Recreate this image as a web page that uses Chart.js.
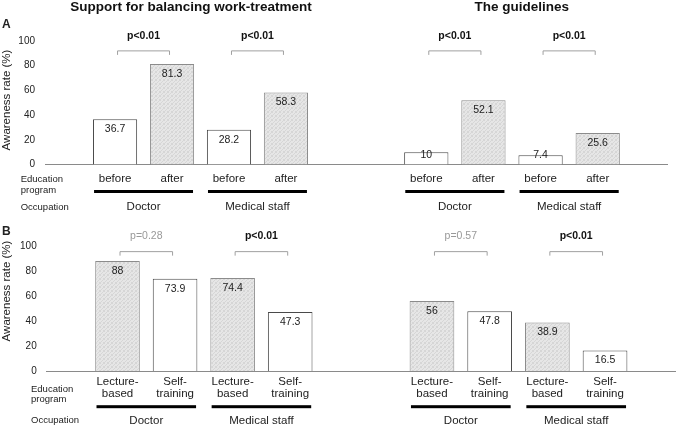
<!DOCTYPE html>
<html>
<head>
<meta charset="utf-8">
<script src="https://cdn.jsdelivr.net/npm/chart.js@4/dist/chart.umd.min.js"></script>
<style>
  body { margin: 0; background: #fff; }
  #wrap { position: relative; width: 676px; height: 425px; overflow: hidden; }
  .panel { position: absolute; }
</style>
</head>
<body>
<div id="wrap">
  <div class="panel" style="left:0;top:0;width:356px;height:215px"><canvas id="supportA"></canvas></div>
  <div class="panel" style="left:356px;top:0;width:312px;height:215px"><canvas id="guideA"></canvas></div>
  <div class="panel" style="left:0;top:215px;width:361px;height:210px"><canvas id="supportB"></canvas></div>
  <div class="panel" style="left:361px;top:215px;width:315px;height:210px"><canvas id="guideB"></canvas></div>
</div>
<script>
// data
const programA = ['before', 'after', 'before', 'after'];
const programB = [['Lecture-', 'based'], ['Self-', 'training'], ['Lecture-', 'based'], ['Self-', 'training']];
const occupations = ['Doctor', 'Medical staff'];
const yTicks = [0, 20, 40, 60, 80, 100];

const supportA = [36.7, 81.3, 28.2, 58.3];
const guideA = [10, 52.1, 7.4, 25.6];
const supportB = [88, 73.9, 74.4, 47.3];
const guideB = [56, 47.8, 38.9, 16.5];

const pSupportA = ['p<0.01', 'p<0.01'];
const pGuideA = ['p<0.01', 'p<0.01'];
const pSupportB = ['p=0.28', 'p<0.01'];
const pGuideB = ['p=0.57', 'p<0.01'];

const FONT = '"Liberation Sans", Arial, sans-serif';

// fine stipple fill like the scanned figure
function dotPattern() {
  const c = document.createElement('canvas');
  c.width = 4; c.height = 4;
  const g = c.getContext('2d');
  g.fillStyle = '#e6e6e6'; g.fillRect(0, 0, 4, 4);
  g.fillStyle = '#d6d6d6';
  [[0, 0], [2, 1], [1, 2], [3, 3], [3, 0], [0, 3]].forEach(p => g.fillRect(p[0], p[1], 1, 1));
  return g.createPattern(c, 'repeat');
}
const shade = dotPattern();

function txt(ctx, s, x, y, size, opts) {
  opts = opts || {};
  ctx.save();
  ctx.font = (opts.bold ? 'bold ' : '') + size + 'px ' + FONT;
  ctx.fillStyle = opts.color || '#222';
  ctx.textAlign = opts.align || 'center';
  ctx.textBaseline = opts.baseline || 'middle';
  if (opts.rotate) {
    ctx.translate(x, y);
    ctx.rotate(opts.rotate);
    ctx.fillText(s, 0, 0);
  } else {
    ctx.fillText(s, x, y);
  }
  ctx.restore();
}

function makePanel(id, cfg) {
  const annot = {
    id: 'annot',
    afterDraw(chart) {
      const ctx = chart.ctx;
      const xs = chart.scales.x, ys = chart.scales.y;
      const base = chart.chartArea.bottom;
      const lay = cfg.row;

      // value labels inside bars
      chart.getDatasetMeta(0).data.forEach((bar, i) => {
        const ly = Math.min(bar.y + 10, bar.base - 9);
        txt(ctx, String(cfg.values[i]), bar.x, ly, 10.5);
      });

      // category labels
      cfg.labels.forEach((lab, i) => {
        const px = xs.getPixelForValue(i);
        const lines = Array.isArray(lab) ? lab : [lab];
        lines.forEach((l, k) => txt(ctx, l, px, base + lay.catY[k], 11.5));
      });

      // occupation underline + names, brackets and p values
      occupations.forEach((occ, g) => {
        const a = xs.getPixelForValue(g * 2), b = xs.getPixelForValue(g * 2 + 1);
        ctx.save();
        ctx.fillStyle = '#000';
        ctx.fillRect(a - 21, base + lay.lineY - 1.5, b - a + 42, 3);
        ctx.restore();
        txt(ctx, occ, (a + b) / 2, base + lay.occY, 11.5);

        const by = ys.getPixelForValue(lay.bracket);
        ctx.save();
        ctx.strokeStyle = '#a0a0a0';
        ctx.lineWidth = 1;
        ctx.beginPath();
        ctx.moveTo(a + 2.5, by + 4);
        ctx.lineTo(a + 2.5, by);
        ctx.lineTo(b - 2.5, by);
        ctx.lineTo(b - 2.5, by + 4);
        ctx.stroke();
        ctx.restore();
        const p = cfg.pvals[g];
        const sig = p.indexOf('<') >= 0;
        txt(ctx, p, (a + b) / 2, ys.getPixelForValue(lay.pText), 10.5,
            { bold: sig, color: sig ? '#111' : '#999' });
      });

      // things that only the left panel carries
      if (cfg.left) {
        txt(ctx, 'Education', lay.sideX, base + lay.eduY[0], 9.5, { align: 'left' });
        txt(ctx, 'program', lay.sideX, base + lay.eduY[1], 9.5, { align: 'left' });
        txt(ctx, 'Occupation', lay.sideX, base + lay.occSideY, 9.5, { align: 'left' });
        txt(ctx, 'Awareness rate (%)', lay.yTitleX, lay.yTitleY, 11.5, { rotate: -Math.PI / 2 });
        txt(ctx, cfg.letter, 2, lay.letterY, 12, { bold: true, align: 'left', baseline: 'alphabetic' });
      }
      if (cfg.title) {
        txt(ctx, cfg.title, cfg.titleX, 10.7, 13.5, { bold: true, baseline: 'alphabetic', color: '#111' });
      }
    }
  };

  return new Chart(document.getElementById(id), {
    type: 'bar',
    data: {
      datasets: [{
        data: cfg.values.map((v, i) => ({ x: i, y: v })),
        backgroundColor: cfg.shaded.map(s => s ? shade : '#ffffff'),
        borderColor: cfg.shaded.map(s => s ? '#8c8c8c' : '#4a4a4a'),
        borderWidth: 1,
        borderSkipped: 'bottom',
        barPercentage: 0.775,
        categoryPercentage: 1
      }]
    },
    options: {
      responsive: true,
      maintainAspectRatio: false,
      animation: false,
      events: [],
      layout: { padding: { top: cfg.row.top, bottom: cfg.row.bottom, left: 0, right: 0 } },
      plugins: { legend: { display: false }, tooltip: { enabled: false } },
      scales: {
        x: {
          type: 'linear',
          offset: false,
          min: -1.23,
          max: 4.23,
          grid: { display: false, drawTicks: false, offset: false },
          border: { display: true, color: '#8a8a8a', width: 1 },
          ticks: { display: false }
        },
        y: {
          display: cfg.left,
          min: 0,
          max: 100,
          afterBuildTicks: s => { s.ticks = yTicks.map(v => ({ value: v })); },
          afterFit: s => { s.width = cfg.left ? cfg.row.axisW : 0; },
          grid: { display: false, drawTicks: false },
          border: { display: false },
          ticks: { padding: 10, color: '#222', font: { family: FONT, size: 10 } }
        }
      }
    },
    plugins: [annot]
  });
}

const rowA = {
  top: 41, bottom: 50.5, axisW: 45,
  catY: [14], lineY: 27, occY: 42.3,
  bracket: 92, pText: 104,
  sideX: 20.7, eduY: [14.5, 26.2], occSideY: 43.2,
  yTitleX: 7, yTitleY: 100, letterY: 28.3
};
const rowB = {
  top: 31, bottom: 54, axisW: 46.7,
  catY: [11.3, 22.7], lineY: 35.7, occY: 49.7,
  bracket: 95.5, pText: 108,
  sideX: 31, eduY: [18, 28.5], occSideY: 49.7,
  yTitleX: 7, yTitleY: 76, letterY: 19.5
};

makePanel('supportA', { left: true, letter: 'A', row: rowA, labels: programA, values: supportA,
  pvals: pSupportA, shaded: [false, true, false, true],
  title: 'Support for balancing work-treatment', titleX: 191 });
makePanel('guideA', { left: false, row: rowA, labels: programA, values: guideA,
  pvals: pGuideA, shaded: [false, true, false, true],
  title: 'The guidelines', titleX: 165.7 });
makePanel('supportB', { left: true, letter: 'B', row: rowB, labels: programB, values: supportB,
  pvals: pSupportB, shaded: [true, false, true, false] });
makePanel('guideB', { left: false, row: rowB, labels: programB, values: guideB,
  pvals: pGuideB, shaded: [true, false, true, false] });
</script>
</body>
</html>
